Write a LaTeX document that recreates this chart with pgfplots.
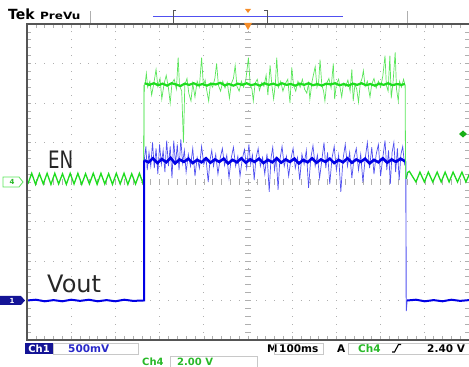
\documentclass[border=0pt]{standalone}
\usepackage{pgfplots}
\pgfplotsset{compat=1.18}
\usepackage{fontspec}
\setmainfont{DejaVu Sans}
\definecolor{tgreen}{RGB}{30,220,30}
\definecolor{tgreenl}{RGB}{90,230,90}
\definecolor{tblue}{RGB}{0,0,228}
\definecolor{tbluel}{RGB}{80,80,240}
\definecolor{framec}{RGB}{85,85,85}
\definecolor{gridc}{RGB}{175,175,175}
\definecolor{navyc}{RGB}{20,20,150}
\definecolor{labblue}{RGB}{40,40,200}
\definecolor{labgreen}{RGB}{40,185,40}
\definecolor{orangec}{RGB}{245,140,40}
\definecolor{boxc}{RGB}{200,200,200}
\begin{document}
\begin{tikzpicture}[x=1pt,y=1pt]
\useasboundingbox (-27,-27) rectangle (442,340);
% grid
\foreach \i in {1,...,9}{
  \draw[gridc, line width=0.9pt, dash pattern=on 0.9pt off 7.0pt] (\i*44.2,-0.45) -- (\i*44.2,316);
}
\foreach \j in {1,...,7}{
  \draw[gridc, line width=0.9pt, dash pattern=on 0.9pt off 7.94pt] (-0.45,\j*39.5) -- (442,\j*39.5);
}
\foreach \k in {0,...,40}{
  \draw[gridc, line width=0.6pt] (218,\k*7.9) -- (224,\k*7.9);
  \draw[gridc, line width=0.6pt] (0,\k*7.9) -- (4,\k*7.9);
  \draw[gridc, line width=0.6pt] (438,\k*7.9) -- (442,\k*7.9);
}
\foreach \k in {0,...,50}{
  \draw[gridc, line width=0.6pt] (\k*8.84,155) -- (\k*8.84,161);
  \draw[gridc, line width=0.6pt] (\k*8.84,316) -- (\k*8.84,312);
  \draw[gridc, line width=0.6pt] (\k*8.84,0) -- (\k*8.84,4);
}
\begin{axis}[at={(0pt,0pt)}, anchor=south west, scale only axis,
  width=442pt, height=316pt, xmin=-5, xmax=5, ymin=-4, ymax=4, hide axis]
% ---- Ch4 (EN) low, left
\addplot[tgreen, line width=1.3pt] coordinates {
(-4.980,-0.05) (-4.893,0.22) (-4.806,-0.06) (-4.719,0.21) (-4.632,-0.05) (-4.545,0.22)
(-4.458,-0.06) (-4.371,0.22) (-4.284,-0.05) (-4.197,0.21) (-4.110,-0.06) (-4.023,0.22)
(-3.936,-0.05) (-3.849,0.22) (-3.762,-0.06) (-3.675,0.21) (-3.588,-0.05) (-3.501,0.22)
(-3.414,-0.06) (-3.327,0.22) (-3.240,-0.05) (-3.153,0.21) (-3.066,-0.06) (-2.979,0.22)
(-2.892,-0.05) (-2.805,0.22) (-2.718,-0.06) (-2.631,0.21) (-2.544,-0.05) (-2.457,0.22)
(-2.370,-0.05) (-2.36,0.00)};
% rise
\addplot[tgreen, line width=0.8pt] coordinates {(-2.36,0.00) (-2.35,2.46)};
% high noisy thin layer
\addplot[tgreenl, line width=0.7pt] coordinates {
(-2.33,2.46) (-2.30,2.75) (-2.27,2.40) (-2.22,2.55) (-2.18,2.20) (-2.13,2.50) (-2.08,2.85)
(-2.04,2.42) (-1.99,2.62) (-1.95,2.10) (-1.90,2.48) (-1.85,2.70) (-1.80,2.38) (-1.76,2.00)
(-1.72,2.50) (-1.67,2.60) (-1.62,2.35) (-1.58,3.15) (-1.55,2.44) (-1.50,2.30) (-1.46,1.00)
(-1.43,2.45) (-1.38,2.62) (-1.34,2.25) (-1.29,2.05) (-1.25,2.50) (-1.20,2.15) (-1.15,2.55)
(-1.10,2.40) (-1.05,3.15) (-1.01,2.45) (-0.97,2.58) (-0.93,2.30) (-0.89,2.05) (-0.85,2.50)
(-0.80,2.40) (-0.75,2.62) (-0.71,3.00) (-0.67,2.45) (-0.62,2.30) (-0.57,2.55) (-0.52,2.38)
(-0.47,2.52) (-0.42,2.12) (-0.38,2.48) (-0.33,2.62) (-0.29,2.95) (-0.25,2.42) (-0.20,2.30)
(-0.15,2.55) (-0.10,2.40) (-0.05,2.58) (0.01,3.15) (0.05,2.45) (0.09,2.35) (0.12,2.05)
(0.16,2.50) (0.21,2.60) (0.26,2.32) (0.31,2.52) (0.36,2.42) (0.41,2.70) (0.45,2.20)
(0.50,2.95) (0.54,2.45) (0.58,2.10) (0.62,2.50) (0.65,3.15) (0.69,2.40) (0.74,2.55)
(0.79,2.30) (0.84,2.48) (0.90,2.60) (0.95,2.00) (0.99,2.90) (1.03,2.45) (1.08,2.30)
(1.13,2.55) (1.18,2.40) (1.23,2.60) (1.28,2.35) (1.33,2.25) (1.37,2.50) (1.40,2.10)
(1.45,2.55) (1.52,2.92) (1.56,2.40) (1.60,2.55) (1.63,3.10) (1.67,2.45) (1.71,2.30)
(1.74,2.05) (1.78,2.50) (1.83,2.62) (1.88,2.38) (1.93,3.00) (1.96,2.10) (2.00,2.48)
(2.05,2.60) (2.09,2.35) (2.12,2.15) (2.16,2.50) (2.21,2.42) (2.26,2.58) (2.31,2.30)
(2.35,2.85) (2.38,2.05) (2.42,2.48) (2.46,2.35) (2.50,2.02) (2.54,2.50) (2.58,2.62)
(2.61,2.82) (2.65,2.42) (2.70,2.55) (2.76,2.15) (2.80,2.48) (2.85,2.62) (2.90,2.38)
(2.95,2.55) (3.00,2.40) (3.05,2.68) (3.10,3.20) (3.13,2.45) (3.17,2.30) (3.21,3.20)
(3.24,2.12) (3.28,2.50) (3.33,3.28) (3.36,2.35) (3.40,2.05) (3.43,2.55) (3.47,2.40)
(3.52,2.60) (3.55,2.46)};
% high core
\addplot[tgreen, line width=2.2pt] coordinates {
(-2.34,2.50) (-2.23,2.46) (-2.13,2.50) (-2.03,2.45) (-1.93,2.49) (-1.83,2.44) (-1.73,2.50)
(-1.63,2.47) (-1.53,2.43) (-1.43,2.49) (-1.33,2.46) (-1.23,2.50) (-1.13,2.45) (-1.03,2.48)
(-0.93,2.44) (-0.83,2.49) (-0.73,2.47) (-0.63,2.51) (-0.53,2.45) (-0.43,2.48) (-0.33,2.44)
(-0.23,2.49) (-0.13,2.46) (-0.03,2.50) (0.07,2.45) (0.17,2.48) (0.27,2.44) (0.37,2.50)
(0.47,2.46) (0.57,2.49) (0.67,2.45) (0.77,2.50) (0.87,2.46) (0.97,2.48) (1.07,2.44)
(1.17,2.49) (1.27,2.46) (1.37,2.50) (1.47,2.45) (1.57,2.48) (1.67,2.44) (1.77,2.49)
(1.87,2.47) (1.97,2.50) (2.07,2.45) (2.17,2.48) (2.27,2.44) (2.37,2.49) (2.47,2.46)
(2.57,2.50) (2.67,2.45) (2.77,2.48) (2.87,2.44) (2.97,2.49) (3.07,2.46) (3.17,2.50)
(3.27,2.45) (3.37,2.48) (3.47,2.46) (3.55,2.48)};
% low, right
\addplot[tgreen, line width=1.3pt] coordinates {
(3.58,0.08) (3.61,0.24) (3.65,0.27) (3.70,0.18) (3.80,0.00) (3.89,0.25) (3.99,0.00)
(4.08,0.25) (4.18,0.00) (4.28,0.25) (4.37,0.00) (4.46,0.25) (4.55,0.00) (4.64,0.25)
(4.74,0.00) (4.84,0.25) (4.93,0.00) (5.03,0.25)};
% ---- Ch1 (Vout)
\addplot[tbluel, line width=0.7pt] coordinates {
(-2.35,0.53) (-2.31,0.90) (-2.28,0.30) (-2.24,0.75) (-2.20,0.40) (-2.16,1.00) (-2.12,0.35)
(-2.08,0.85) (-2.04,0.20) (-2.00,0.95) (-1.96,0.45) (-1.92,0.80) (-1.88,0.25) (-1.84,1.05)
(-1.80,0.40) (-1.76,0.90) (-1.72,0.10) (-1.68,1.05) (-1.64,0.45) (-1.60,0.95) (-1.56,0.30)
(-1.52,1.08) (-1.48,0.48) (-1.44,0.80) (-1.40,0.25) (-1.35,0.70) (-1.30,0.40) (-1.25,0.85)
(-1.20,0.15) (-1.15,0.62) (-1.10,0.35) (-1.05,0.90) (-1.00,0.45) (-0.95,0.60) (-0.90,0.00)
(-0.86,0.55) (-0.82,0.80) (-0.78,0.40) (-0.73,0.70) (-0.68,0.20) (-0.63,0.60) (-0.58,0.85)
(-0.53,0.42) (-0.48,0.68) (-0.43,0.10) (-0.38,0.60) (-0.33,0.88) (-0.28,0.40) (-0.23,0.65)
(-0.18,0.15) (-0.13,0.58) (-0.08,0.82) (-0.03,0.35) (0.02,0.95) (0.06,0.45) (0.10,0.68)
(0.14,0.05) (0.18,0.60) (0.23,0.85) (0.28,0.40) (0.33,0.62) (0.38,0.20) (0.43,0.72)
(0.48,-0.25) (0.52,0.60) (0.56,0.88) (0.60,0.30) (0.64,0.65) (0.68,-0.20) (0.72,0.55)
(0.77,0.90) (0.82,0.40) (0.87,0.65) (0.92,0.15) (0.97,0.58) (1.02,0.85) (1.07,0.35)
(1.12,0.62) (1.17,0.05) (1.22,0.70) (1.27,0.45) (1.32,0.80) (1.37,-0.15) (1.42,0.60)
(1.47,0.92) (1.52,0.40) (1.57,0.68) (1.62,0.10) (1.67,0.55) (1.72,1.00) (1.76,0.35)
(1.80,0.75) (1.85,-0.05) (1.90,0.60) (1.95,0.90) (2.00,0.30) (2.05,0.68) (2.10,-0.25)
(2.15,0.58) (2.20,0.95) (2.25,0.40) (2.30,0.75) (2.35,0.10) (2.40,0.62) (2.45,0.85)
(2.50,0.30) (2.55,0.70) (2.60,0.00) (2.65,0.58) (2.70,1.00) (2.75,0.35) (2.80,0.88)
(2.85,0.20) (2.90,0.70) (2.95,0.95) (3.00,0.15) (3.05,0.62) (3.10,1.05) (3.14,0.30)
(3.18,0.80) (3.22,-0.05) (3.26,0.75) (3.30,1.00) (3.34,0.25) (3.38,0.85) (3.42,0.05)
(3.46,0.70) (3.50,0.90) (3.54,0.45) (3.57,0.53)};
\addplot[tblue, line width=2.0pt] coordinates {
(-5.00,-3.00) (-4.80,-2.98) (-4.60,-3.02) (-4.40,-2.99) (-4.20,-3.02) (-4.00,-2.98)
(-3.80,-3.01) (-3.60,-2.98) (-3.40,-3.02) (-3.20,-2.99) (-3.00,-3.02) (-2.80,-2.98)
(-2.60,-3.01) (-2.37,-3.00) (-2.35,-3.00) (-2.35,0.55)};
\addplot[tblue, line width=2.6pt] coordinates {
(-2.35,0.55) (-2.25,0.50) (-2.15,0.60) (-2.05,0.48) (-1.95,0.58) (-1.85,0.50) (-1.75,0.61)
(-1.65,0.47) (-1.55,0.57) (-1.45,0.51) (-1.35,0.59) (-1.25,0.48) (-1.15,0.56) (-1.05,0.50)
(-0.95,0.60) (-0.85,0.49) (-0.75,0.57) (-0.65,0.51) (-0.55,0.59) (-0.45,0.47) (-0.35,0.56)
(-0.25,0.50) (-0.15,0.60) (-0.05,0.49) (0.05,0.57) (0.15,0.51) (0.25,0.59) (0.35,0.48)
(0.45,0.56) (0.55,0.50) (0.65,0.60) (0.75,0.49) (0.85,0.57) (0.95,0.51) (1.05,0.59)
(1.15,0.47) (1.25,0.56) (1.35,0.50) (1.45,0.60) (1.55,0.49) (1.65,0.57) (1.75,0.51)
(1.85,0.59) (1.95,0.48) (2.05,0.56) (2.15,0.50) (2.25,0.60) (2.35,0.49) (2.45,0.57)
(2.55,0.51) (2.65,0.59) (2.75,0.47) (2.85,0.56) (2.95,0.50) (3.05,0.60) (3.15,0.49)
(3.25,0.57) (3.35,0.51) (3.45,0.59) (3.56,0.52)};
\addplot[tbluel, line width=0.9pt] coordinates {(3.57,0.53) (3.58,-3.27) (3.60,-3.00)};
\addplot[tblue, line width=2.0pt] coordinates {
(3.60,-3.00) (3.80,-2.98) (4.00,-3.02) (4.20,-2.99) (4.40,-3.02) (4.60,-2.98) (4.80,-3.01) (5.00,-2.99)};
% EN falling edge
\addplot[tgreenl, line width=0.8pt] coordinates {(3.555,2.46) (3.565,0.08)};
\end{axis}
% frame
\draw[framec, line width=2.5pt] (442,0) -- (0,0) -- (0,316) -- (442,316);
% top indicators
\node[anchor=base west, inner sep=0] at (-19,320) {\fontsize{14}{14}\selectfont\bfseries Tek};
\node[anchor=base west, inner sep=0] at (13,320) {\scalebox{1.2}[1]{\fontsize{10}{10}\selectfont\bfseries PreVu}};
\draw[gridc, line width=0.8pt] (63,317) -- (63,329);
\draw[gridc, line width=0.8pt] (380,317) -- (380,329);
\draw[tbluel, line width=0.9pt] (126,324) -- (316,324);
\draw[framec, line width=0.8pt] (149,330) -- (146,330) -- (146,317) -- (149,317);
\draw[framec, line width=0.8pt] (237,330) -- (240,330) -- (240,317) -- (237,317);
\fill[orangec] (218,331) -- (224,331) -- (221,327) -- cycle;
\fill[orangec] (217,317) -- (225,317) -- (221,310) -- cycle;
% trigger level marker
\fill[tgreen!80!black] (432,206) -- (436,209.5) -- (440,206) -- (436,202.5) -- cycle;
% channel markers
\draw[tgreenl, line width=0.8pt, fill=white] (-24,153) -- (-8,153) -- (-4,158) -- (-8,163) -- (-24,163) -- cycle;
\node[inner sep=0, text=labgreen] at (-15,158) {\fontsize{7}{7}\selectfont\bfseries 4};
\fill[navyc] (-27,35) -- (-6,35) -- (-2,39.5) -- (-6,44) -- (-27,44) -- cycle;
\node[inner sep=0, text=white] at (-15,39.5) {\fontsize{7}{7}\selectfont\bfseries 1};
% trace labels
\node[anchor=base west, inner sep=0, text=black!85] at (21,171) {\fontsize{24}{24}\selectfont\scalebox{0.76}[1]{EN}};
\node[anchor=base west, inner sep=0, text=black!85] at (20,47) {\fontsize{24}{24}\selectfont Vout};
% bottom status
\fill[navyc] (-2,-14) rectangle (26,-3);
\node[inner sep=0, text=white] at (12,-8.5) {\fontsize{10}{10}\selectfont\bfseries Ch1};
\draw[boxc, line width=0.8pt] (26,-14) rectangle (111,-3);
\node[anchor=base west, inner sep=0, text=labblue] at (41,-12.5) {\fontsize{10.5}{10.5}\selectfont\bfseries 500mV};
\node[anchor=base west, inner sep=0] at (240,-12.5) {\fontsize{10.5}{10.5}\selectfont\bfseries M};
\draw[boxc, line width=0.8pt] (247,-14) rectangle (296,-3);
\node[anchor=base west, inner sep=0] at (252,-12.5) {\fontsize{10.5}{10.5}\selectfont\bfseries 100ms};
\node[anchor=base west, inner sep=0] at (310,-12.5) {\fontsize{10.5}{10.5}\selectfont\bfseries A};
\draw[boxc, line width=0.8pt] (321,-14) rectangle (446,-3);
\node[anchor=base west, inner sep=0, text=labgreen] at (331,-12.5) {\fontsize{10.5}{10.5}\selectfont\bfseries Ch4};
\draw[black, line width=1.1pt] (365,-12) -- (367.5,-12) -- (371.5,-4.5) -- (374,-4.5);
\node[anchor=base west, inner sep=0] at (400,-12.5) {\fontsize{10.5}{10.5}\selectfont\bfseries 2.40 V};
\node[anchor=base west, inner sep=0, text=labgreen] at (115,-25.5) {\fontsize{10}{10}\selectfont\bfseries Ch4};
\draw[boxc, line width=0.8pt] (143,-28) rectangle (230,-16.5);
\node[anchor=base west, inner sep=0, text=labgreen] at (150,-25.5) {\fontsize{10}{10}\selectfont\bfseries 2.00 V};
\end{tikzpicture}
\end{document}
